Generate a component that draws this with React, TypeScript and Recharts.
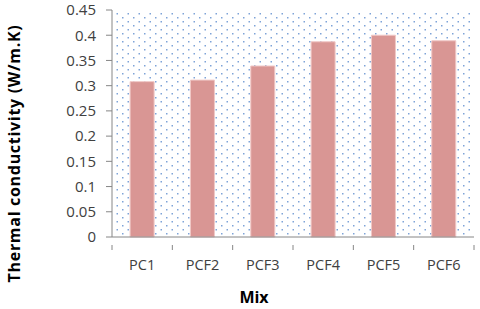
import React from "react";
import { BarChart, Bar, XAxis, YAxis, Label } from "recharts";

const categories = ["PC1", "PCF2", "PCF3", "PCF4", "PCF5", "PCF6"];
const conductivity = [0.308, 0.311, 0.339, 0.387, 0.4, 0.389];
const yTicks = [0, 0.05, 0.1, 0.15, 0.2, 0.25, 0.3, 0.35, 0.4, 0.45];

const data = categories.map((c, i) => ({ mix: c, k: conductivity[i] }));

const W = 480;
const H = 309;
const YW = 112;
const XH = 72;
const M = { top: 10, right: 6, bottom: 0, left: 0 };
const PLOT_W = W - YW - M.right;
const PLOT_H = H - M.top - XH;
const BAND = PLOT_W / categories.length;

const XTick = (props: any) => {
  const { x, y, payload, index } = props;
  const left = x - BAND / 2;
  return (
    <g>
      <line x1={left} y1={y} x2={left} y2={y + 5} stroke="#868686" />
      {index === categories.length - 1 && (
        <line x1={left + BAND} y1={y} x2={left + BAND} y2={y + 5} stroke="#868686" />
      )}
      <text x={x} y={y + 25} textAnchor="middle" fill="#404040" fontSize={14.5} fontFamily="'Open Sans', sans-serif">
        {payload.value}
      </text>
    </g>
  );
};

export default function App() {
  return (
    <div style={{ position: "absolute", left: 0, top: 0, width: W, height: H, background: "#fff" }}>
      <BarChart width={W} height={H} data={data} margin={M} barCategoryGap="30%">
        <defs>
          <pattern id="dots" x="0" y="0" width="11" height="8" patternUnits="userSpaceOnUse">
            <rect x="1" y="1" width="1.5" height="1.5" fill="#7ea3d8" />
            <rect x="6.5" y="5" width="1.5" height="1.5" fill="#7ea3d8" />
          </pattern>
        </defs>
        <rect x={YW + 2} y={M.top + 1} width={PLOT_W - 2} height={PLOT_H - 2} fill="url(#dots)" />
        <XAxis
          dataKey="mix"
          axisLine={{ stroke: "#868686" }}
          tickLine={false}
          tick={<XTick />}
          interval={0}
          height={XH}
        >
          <Label value="Mix" position="insideBottom" offset={6} dx={-39} fill="#000" fontSize={16} fontWeight="bold" fontFamily="'Open Sans', sans-serif" />
        </XAxis>
        <YAxis
          domain={[0, 0.45]}
          ticks={yTicks}
          interval={0}
          axisLine={{ stroke: "#868686" }}
          tickLine={{ stroke: "#868686" }}
          tickSize={6}
          tickMargin={10}
          width={YW}
          tick={{ fill: "#404040", fontSize: 15, fontFamily: "'Open Sans', sans-serif" }}
        >
          <Label
            value="Thermal conductivity (W/m.K)"
            angle={-90}
            position="insideLeft"
            offset={14}
            dy={30}
            style={{ textAnchor: "middle", letterSpacing: "0.7px" }}
            fill="#000"
            fontSize={16}
            fontWeight="bold"
            fontFamily="'Open Sans', sans-serif"
          />
        </YAxis>
        <Bar dataKey="k" fill="#d99694" stroke="#f0c8c6" strokeWidth={1} isAnimationActive={false} />
      </BarChart>
    </div>
  );
}
